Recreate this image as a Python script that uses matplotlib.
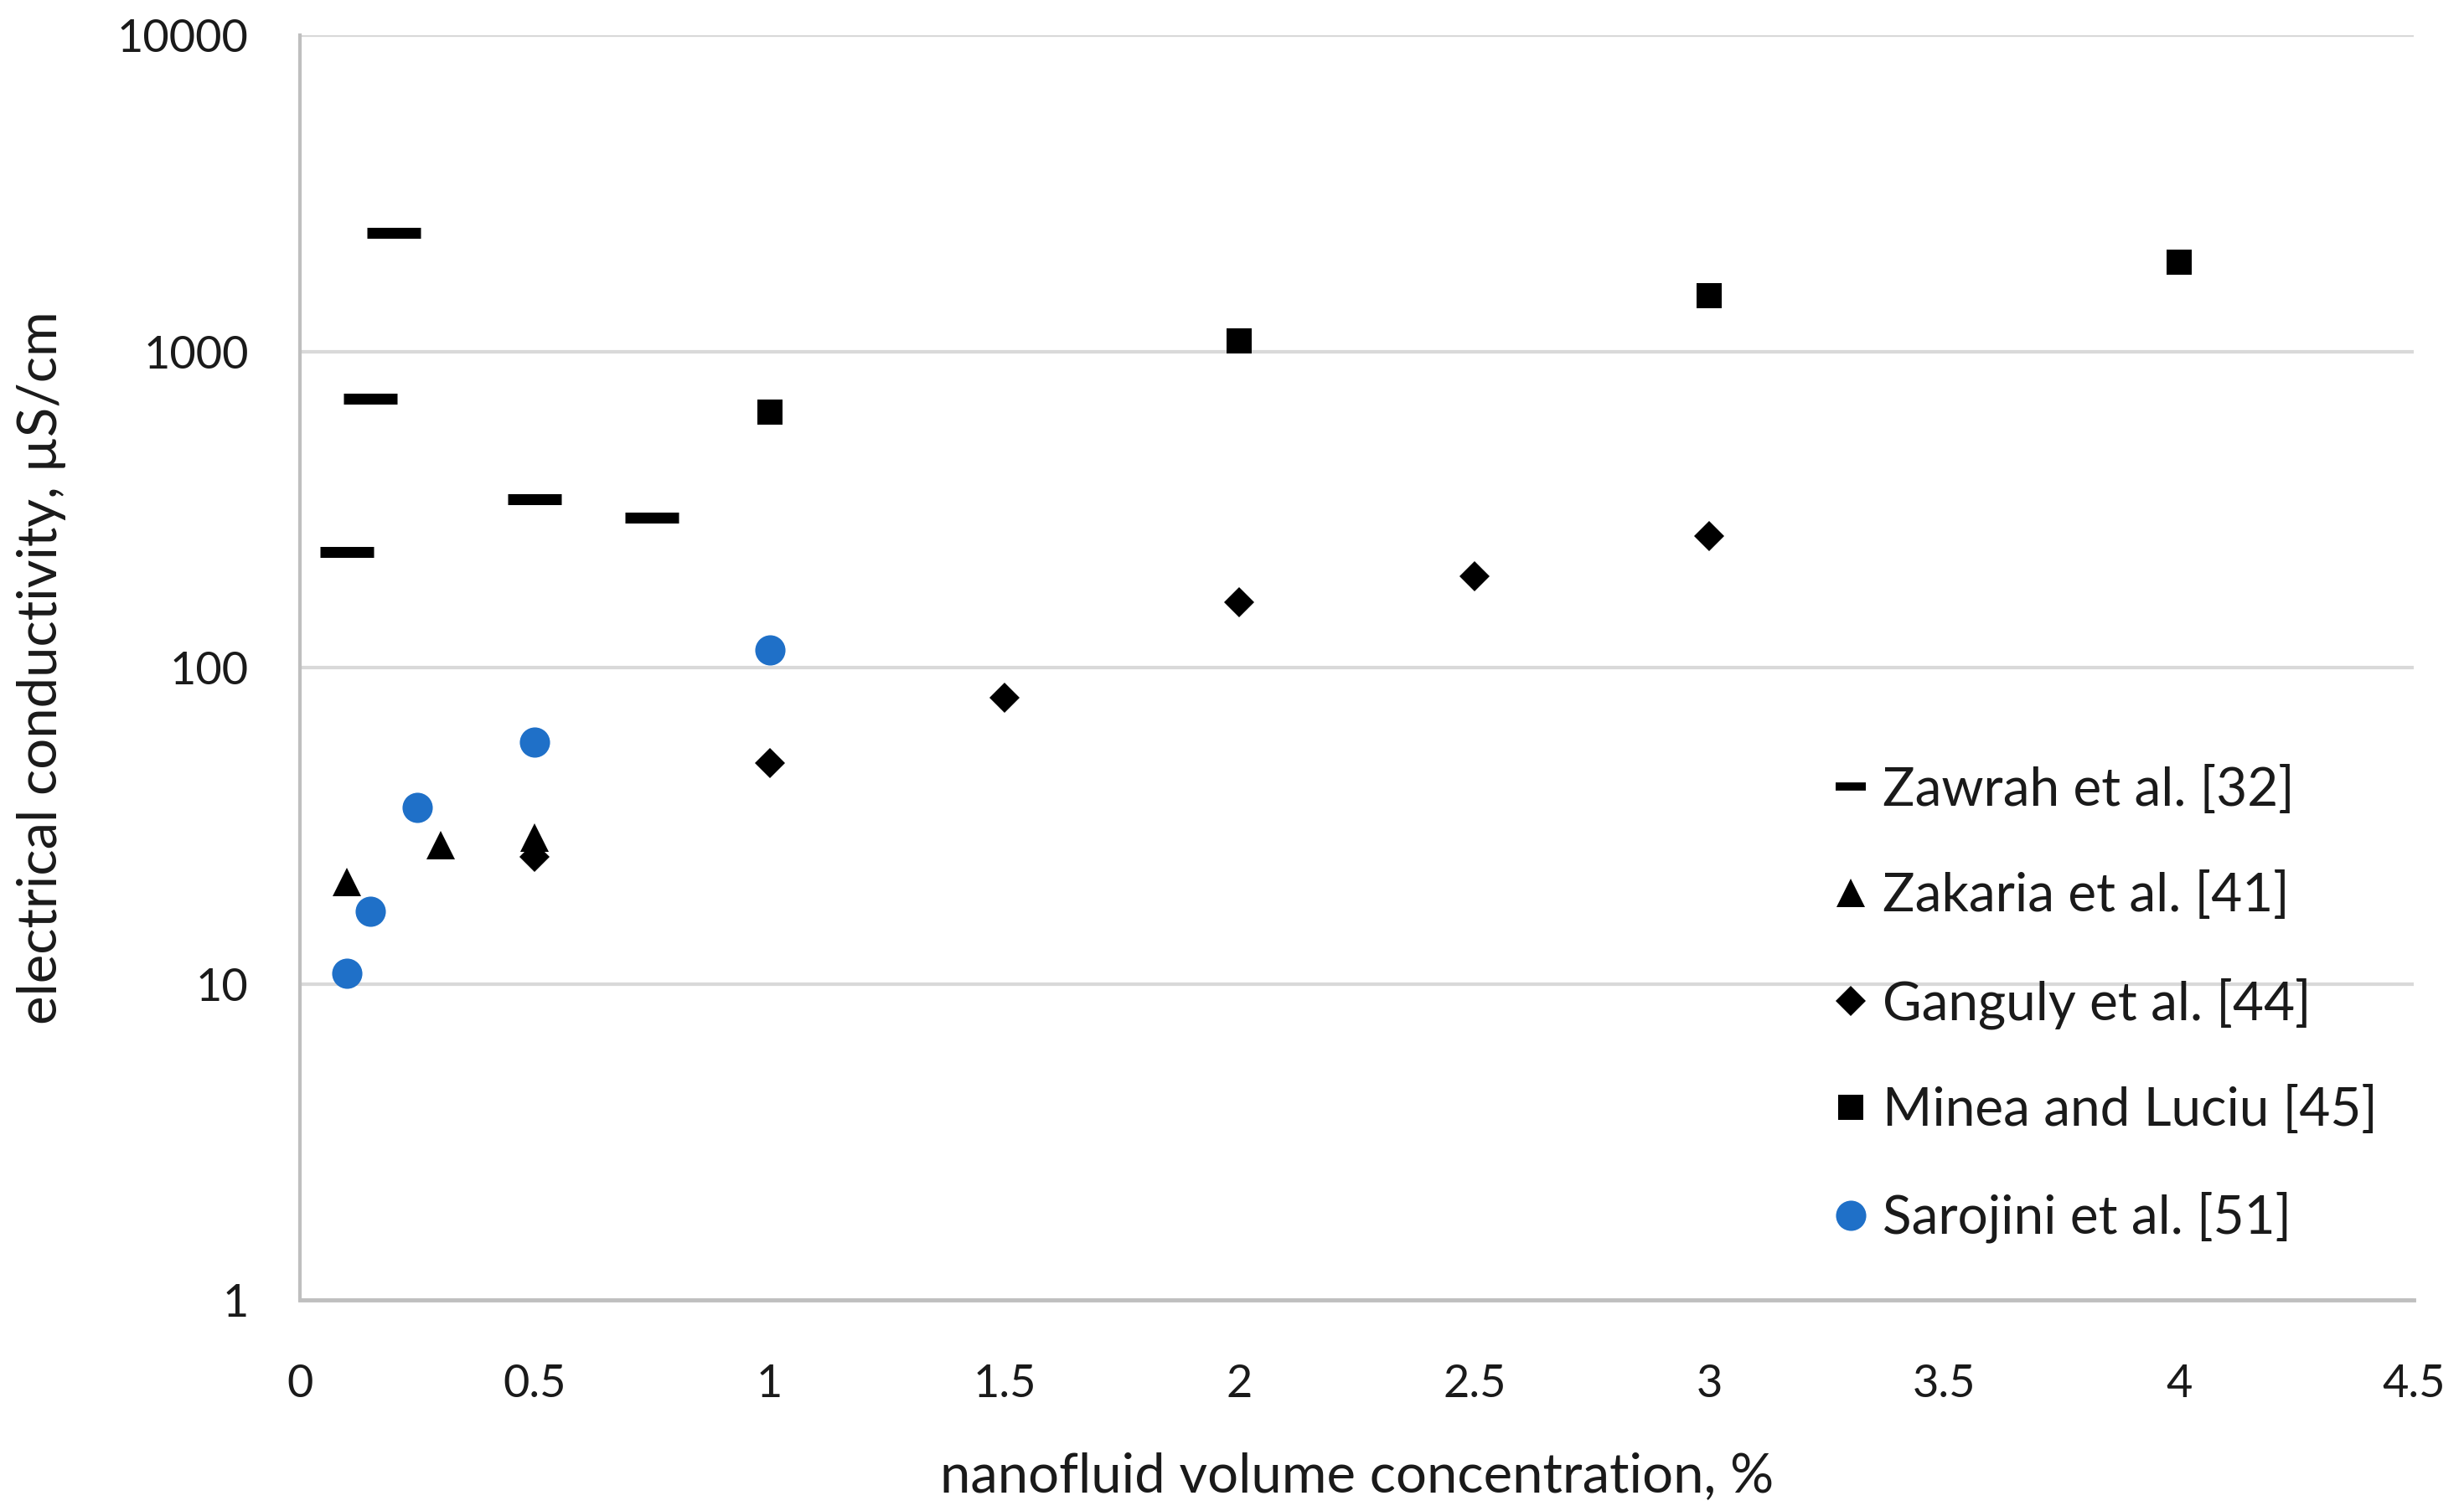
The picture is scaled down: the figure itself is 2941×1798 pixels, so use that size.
import numpy as np
import matplotlib.pyplot as plt
from matplotlib.ticker import FixedLocator, FixedFormatter, NullLocator

plt.rcParams['font.family'] = ['Lato', 'DejaVu Sans']

# Datos
zawrah_x = [0.1, 0.15, 0.2, 0.5, 0.75]
zawrah_y = [232, 708, 2371, 340, 298]

zakaria_x = [0.1, 0.3, 0.5]
zakaria_y = [21.0, 27.4, 29.0]

ganguly_x = [0.5, 1.0, 1.5, 2.0, 2.5, 3.0]
ganguly_y = [25.2, 49.9, 80.5, 161, 195, 260]

minea_x = [1.0, 2.0, 3.0, 4.0]
minea_y = [643, 1082, 1497, 1918]

sarojini_x = [0.1, 0.15, 0.25, 0.5, 1.0]
sarojini_y = [10.8, 17.0, 36.1, 58.1, 113.6]

x_ticks = [0, 0.5, 1, 1.5, 2, 2.5, 3, 3.5, 4, 4.5]
x_tick_labels = ['0', '0.5', '1', '1.5', '2', '2.5', '3', '3.5', '4', '4.5']
y_ticks = [1, 10, 100, 1000, 10000]
y_tick_labels = ['1', '10', '100', '1000', '10000']

blue = '#1F70C8'
grid_color = '#d9d9d9'
axis_color = '#bfbfbf'
text_color = '#1a1a1a'

fig = plt.figure(figsize=(29.41, 17.98), dpi=100)
ax = fig.add_axes([0.1217, 0.1368, 0.858, 0.8398])

ax.plot(zawrah_x, zawrah_y, linestyle='none', marker='_', markersize=46,
        markeredgewidth=9.4, color='black', label='Zawrah et al. [32]')
ax.plot(zakaria_x, zakaria_y, linestyle='none', marker='^', markersize=25,
        markeredgewidth=0, color='black', label='Zakaria et al. [41]')
ax.plot(ganguly_x, ganguly_y, linestyle='none', marker='D', markersize=18,
        markeredgewidth=0, color='black', label='Ganguly et al. [44]')
ax.plot(minea_x, minea_y, linestyle='none', marker='s', markersize=22,
        markeredgewidth=0, color='black', label='Minea and Luciu [45]')
ax.plot(sarojini_x, sarojini_y, linestyle='none', marker='o', markersize=26,
        markeredgewidth=0, color=blue, label='Sarojini et al. [51]')

ax.set_yscale('log')
ax.set_xlim(0, 4.5)
ax.set_ylim(1, 10000)

ax.xaxis.set_major_locator(FixedLocator(x_ticks))
ax.xaxis.set_major_formatter(FixedFormatter(x_tick_labels))
ax.yaxis.set_major_locator(FixedLocator(y_ticks))
ax.yaxis.set_major_formatter(FixedFormatter(y_tick_labels))
ax.yaxis.set_minor_locator(NullLocator())

ax.tick_params(axis='both', length=0, labelsize=39, colors=text_color)
ax.tick_params(axis='x', pad=55)
ax.tick_params(axis='y', pad=44)

ax.grid(True, axis='y', color=grid_color, linewidth=3)
ax.set_axisbelow(True)

for side in ['top', 'right']:
    ax.spines[side].set_visible(False)
ax.spines['left'].set_color(axis_color)
ax.spines['left'].set_linewidth(3)
ax.spines['bottom'].set_color(axis_color)
ax.spines['bottom'].set_linewidth(3.5)

ax.set_xlabel('nanofluid volume concentration, %', fontsize=47,
              color=text_color, labelpad=40)
ax.set_ylabel('electrical conductivity, µS/cm', fontsize=47,
              color=text_color, labelpad=44)

leg = ax.legend(loc='center left', bbox_to_anchor=(0.7235, 0.2338), frameon=False,
                fontsize=46, handlelength=0.8, handletextpad=0.2,
                labelspacing=1.06, borderpad=0, borderaxespad=0)
for t in leg.get_texts():
    t.set_color(text_color)
# el guion de la leyenda es mas corto que en el grafico
leg.legend_handles[0].set_markersize(26)
leg.legend_handles[0].set_markeredgewidth(7)

fig.savefig('out.png', dpi=100, facecolor='white')
